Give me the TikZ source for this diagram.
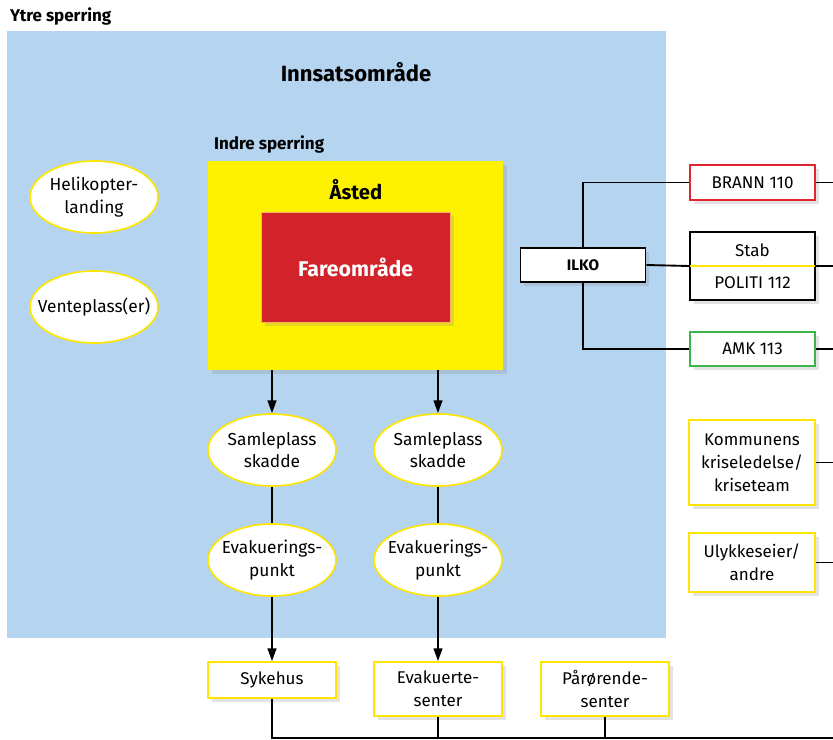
\documentclass[tikz,border=0pt]{standalone}
\usepackage{fontspec}
\setmainfont{Fira Sans}
\usetikzlibrary{shapes.geometric}
\usetikzlibrary{arrows.meta}
\usetikzlibrary{shadows}

\definecolor{skyblue}{HTML}{B5D4EF}
\definecolor{zoneyellow}{HTML}{FFF200}
\definecolor{rimyellow}{HTML}{FFE600}
\definecolor{dangerred}{HTML}{D2232A}
\definecolor{firered}{HTML}{E0262F}
\definecolor{ambgreen}{HTML}{3DB54A}

\begin{document}
\begin{tikzpicture}[
        x=0.03cm, y=-0.03cm,
        area/.style={rectangle, inner sep=0, anchor=north west},
        heading/.style={font=\bfseries\fontsize{14.5}{17}\selectfont},
        place/.style={ellipse, draw=rimyellow, line width=1.4pt, fill=white,
            minimum width=3.84cm, minimum height=2.16cm, inner ysep=0, inner xsep=-0.45cm,
            align=center, font=\fontsize{14.8}{19}\selectfont},
        unit/.style={rectangle, draw=rimyellow, line width=1.4pt, fill=white,
            minimum width=3.78cm, minimum height=1.02cm, inner sep=0, align=center,
            font=\fontsize{14.5}{19.5}\selectfont,
            drop shadow={opacity=0.22, shadow xshift=3pt, shadow yshift=-3pt}},
        link/.style={line width=1.6pt},
        >={Triangle[length=11pt,width=7.5pt]}
    ]
        \useasboundingbox (0,0) rectangle (833,740);

        % ytre sperring og innsatsomraade
        \node[heading, anchor=west] (ytre) at (6,17) {Ytre sperring};
        \node[area, fill=skyblue, minimum width=19.77cm, minimum height=18.21cm] (innsats) at (7,31) {};
        \node[font=\bfseries\fontsize{18.8}{22}\selectfont] (innsatstitle) at (356,72) {Innsatsområde};

        % indre sperring med aasted og fareomraade
        \node[heading, anchor=west] (indre) at (210,145) {Indre sperring};
        \node[area, fill=zoneyellow, minimum width=8.85cm, minimum height=6.27cm,
            drop shadow={opacity=0.22, shadow xshift=3pt, shadow yshift=-3pt}] (asted) at (208,161) {};
        \node[font=\bfseries\fontsize{17.3}{20}\selectfont] (astedtitle) at (356,190) {Åsted};
        \node[area, fill=dangerred, draw=orange!60, minimum width=5.67cm, minimum height=3.30cm,
            drop shadow={opacity=0.22, shadow xshift=3pt, shadow yshift=-3pt}] (fare) at (261,212) {};
        \node[text=white, font=\bfseries\fontsize{18.2}{21}\selectfont] (faretitle) at (fare.center) {Fareområde};

        % steder i innsatsomraadet
        \node[place] (heli) at (94,197) {Helikopter-\\landing};
        \node[place] (vente) at (94,307) {Venteplass(er)};
        \foreach \col/\x in {a/272, b/438} {
            \node[place] (samle-\col) at (\x,450) {Samleplass\\skadde};
            \node[place] (evakpkt-\col) at (\x,560) {Evakuerings-\\punkt};
            \draw[link, ->] (samle-\col |- asted.south) -- (samle-\col.north);
            \draw[link] (samle-\col) -- (evakpkt-\col);
        }

        % sentre nederst
        \node[unit, minimum width=3.84cm, minimum height=1.08cm] (sykehus) at (272,680) {Sykehus};
        \node[unit, minimum width=3.84cm, minimum height=1.62cm] (evaksenter) at (438,689) {Evakuerte-\\senter};
        \node[unit, minimum width=3.84cm, minimum height=1.62cm] (paarsenter) at (605,689) {Pårørende-\\senter};
        \draw[link, ->] (evakpkt-a) -- (sykehus);
        \draw[link, ->] (evakpkt-b) -- (evaksenter);

        % ledelse
        \node[unit, draw=black, font=\bfseries\fontsize{13}{19}\selectfont, minimum width=3.75cm] (ilko) at (583,265) {ILKO};
        \node[unit, draw=firered, minimum width=3.75cm, minimum height=1.05cm] (brann) at (752.5,182.5) {BRANN 110};
        \node[unit, draw=black, minimum width=3.75cm, minimum height=2.04cm] (politi) at (752.5,266) {Stab\\[8pt]POLITI 112};
        \draw[rimyellow, line width=1.4pt] ([xshift=0.7pt]politi.west) -- ([xshift=-0.7pt]politi.east);
        \node[unit, draw=ambgreen, minimum width=3.75cm] (amk) at (752.5,349) {AMK 113};
        \node[unit, minimum height=2.55cm] (kommune) at (752,462.5) {Kommunens\\kriseledelse/\\kriseteam};
        \node[unit, minimum height=1.77cm] (eier) at (752,562.5) {Ulykkeseier/\\andre};

        \draw[link] (ilko.north) |- (brann.west);
        \draw[link] (ilko.east) -- (politi.west);
        \draw[link] (ilko.south) |- (amk.west);

        % linjer ut mot hoeyre kant
        \coordinate (rim) at (833,0);
        \coordinate (bus) at (833,738);
        \foreach \n in {brann, politi, amk, kommune, eier} {
            \draw[link] (\n.east) -- (\n.east -| rim);
        }
        \draw[link] (sykehus.south) -- (sykehus |- bus) -- (bus);
        \draw[link] (evaksenter.south) -- (evaksenter |- bus);
        \draw[link] (paarsenter.south) -- (paarsenter |- bus);
    \end{tikzpicture}
\end{document}
